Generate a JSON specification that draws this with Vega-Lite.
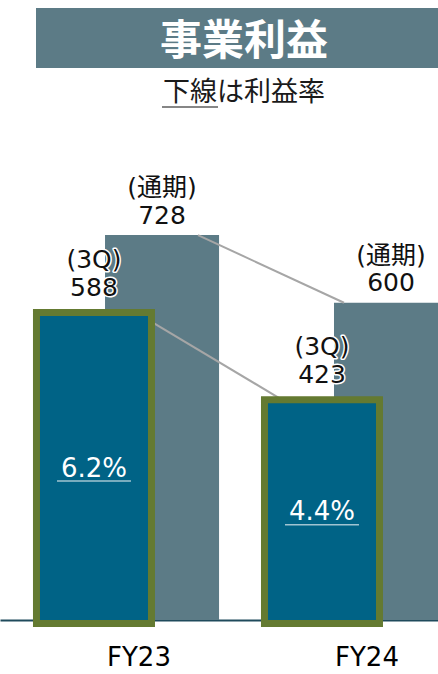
{
  "$schema": "https://vega.github.io/schema/vega-lite/v6.json",
  "padding": {"top": 8, "left": 0, "right": 0, "bottom": 0},
  "config": {
    "view": {"stroke": null},
    "font": "DejaVu Sans, Noto Sans CJK JP",
    "concat": {"spacing": 0}
  },
  "datasets": {
    "profit": [
      {"fy": "FY23", "type": "3Q", "tag": "(3Q)", "value": 588, "margin": 0.062},
      {"fy": "FY23", "type": "通期", "tag": "(通期)", "value": 728},
      {"fy": "FY24", "type": "3Q", "tag": "(3Q)", "value": 423, "margin": 0.044},
      {"fy": "FY24", "type": "通期", "tag": "(通期)", "value": 600}
    ]
  },
  "vconcat": [
    {
      "hconcat": [
        {
          "width": 36, "height": 60,
          "data": {"values": [{"blank": ""}]},
          "mark": {"type": "text"},
          "encoding": {"text": {"field": "blank"}}
        },
        {
          "width": 402, "height": 60,
          "view": {"fill": "#5c7b86", "stroke": null},
          "data": {"values": [{"title": "事業利益"}]},
          "mark": {"type": "text", "font": "Noto Sans CJK JP", "fontWeight": "bold", "fontSize": 42, "color": "#ffffff", "dx": 7, "dy": 4},
          "encoding": {"text": {"field": "title"}}
        }
      ],
      "spacing": 0
    },
    {
      "width": 438, "height": 46,
      "data": {"values": [{"subtitle": "下線は利益率"}]},
      "layer": [
        {
          "mark": {"type": "text", "font": "Noto Sans CJK JP", "fontSize": 27, "color": "#1a1a1a", "dx": 25, "dy": 2},
          "encoding": {"text": {"field": "subtitle"}}
        },
        {
          "mark": {"type": "tick", "orient": "horizontal", "size": 56, "thickness": 1.5, "color": "#1a1a1a", "xOffset": -29, "yOffset": 16},
          "encoding": {}
        }
      ]
    },
    {
      "width": 438, "height": 506,
      "data": {"name": "profit"},
      "resolve": {"scale": {"x": "independent", "y": "independent"}},
      "layer": [
        {
          "transform": [{"filter": "datum.type === '通期'"}],
          "layer": [
            {
              "mark": {"type": "bar", "color": "#5c7b86", "clip": true},
              "encoding": {
                "x": {"field": "fy", "type": "nominal", "scale": {"domain": ["FY23", "FY24"], "range": [0, 470], "paddingInner": 0.502, "paddingOuter": 0.2773, "align": 0.827}, "axis": null},
                "y": {"field": "value", "type": "quantitative", "scale": {"domain": [0, 957], "nice": false, "zero": true}, "axis": null}
              }
            },
            {
              "mark": {"type": "text", "fontSize": 25, "color": "#111111", "baseline": "alphabetic", "dy": -39},
              "encoding": {
                "x": {"field": "fy", "type": "nominal"},
                "y": {"field": "value", "type": "quantitative"},
                "text": {"field": "tag"}
              }
            },
            {
              "mark": {"type": "text", "fontSize": 25, "color": "#111111", "baseline": "alphabetic", "dy": -11.5},
              "encoding": {
                "x": {"field": "fy", "type": "nominal"},
                "y": {"field": "value", "type": "quantitative"},
                "text": {"field": "value", "type": "quantitative"}
              }
            }
          ]
        },
        {
          "transform": [{"filter": "datum.type === '通期'"}],
          "mark": {"type": "line", "color": "#a6a6a6", "strokeWidth": 2},
          "encoding": {
            "x": {"field": "fy", "type": "nominal", "scale": {"type": "point", "domain": ["FY23", "FY24"], "padding": 1.404, "align": 0.678}, "axis": null},
            "y": {"field": "value", "type": "quantitative", "scale": {"domain": [0, 957], "nice": false, "zero": true}, "axis": null}
          }
        },
        {
          "transform": [{"filter": "datum.type === '3Q'"}],
          "mark": {"type": "line", "color": "#a6a6a6", "strokeWidth": 2, "yOffset": 3.5},
          "encoding": {
            "x": {"field": "fy", "type": "nominal", "scale": {"type": "point", "domain": ["FY23", "FY24"], "padding": 1.438, "align": 0.4662}, "axis": null},
            "y": {"field": "value", "type": "quantitative", "scale": {"domain": [0, 957], "nice": false, "zero": true}, "axis": null}
          }
        },
        {
          "transform": [{"filter": "datum.type === '3Q'"}],
          "layer": [
            {
              "mark": {"type": "bar", "fill": "#006386", "stroke": "#647a31", "strokeWidth": 7, "yOffset": 3.5, "y2Offset": 3.5},
              "encoding": {
                "x": {
                  "field": "fy", "type": "nominal",
                  "scale": {"domain": ["FY23", "FY24"], "paddingInner": 0.4956, "paddingOuter": 0.2083, "align": 0.384},
                  "axis": {"orient": "bottom", "title": null, "domainColor": "#1f4a5c", "domainWidth": 2, "ticks": false, "grid": false, "labelAngle": 0, "labelFont": "DejaVu Sans", "labelFontSize": 26, "labelColor": "#000000", "labelPadding": 24, "labelOffset": 45}
                },
                "y": {"field": "value", "type": "quantitative", "scale": {"domain": [0, 957], "nice": false, "zero": true}, "axis": null}
              }
            },
            {
              "mark": {"type": "text", "fontSize": 25, "fill": "#ffffff", "stroke": "#ffffff", "strokeWidth": 3, "strokeJoin": "round", "baseline": "alphabetic", "dy": -41},
              "encoding": {
                "x": {"field": "fy", "type": "nominal"},
                "y": {"field": "value", "type": "quantitative"},
                "text": {"field": "tag"}
              }
            },
            {
              "mark": {"type": "text", "fontSize": 25, "color": "#111111", "baseline": "alphabetic", "dy": -41},
              "encoding": {
                "x": {"field": "fy", "type": "nominal"},
                "y": {"field": "value", "type": "quantitative"},
                "text": {"field": "tag"}
              }
            },
            {
              "mark": {"type": "text", "fontSize": 25, "fill": "#ffffff", "stroke": "#ffffff", "strokeWidth": 3, "strokeJoin": "round", "baseline": "alphabetic", "dy": -13.5},
              "encoding": {
                "x": {"field": "fy", "type": "nominal"},
                "y": {"field": "value", "type": "quantitative"},
                "text": {"field": "value", "type": "quantitative"}
              }
            },
            {
              "mark": {"type": "text", "fontSize": 25, "color": "#111111", "baseline": "alphabetic", "dy": -13.5},
              "encoding": {
                "x": {"field": "fy", "type": "nominal"},
                "y": {"field": "value", "type": "quantitative"},
                "text": {"field": "value", "type": "quantitative"}
              }
            }
          ]
        },
        {
          "transform": [{"filter": "datum.type === '3Q'"}],
          "layer": [
            {
              "mark": {"type": "text", "fontSize": 26, "color": "#ffffff", "baseline": "middle", "dy": 4},
              "encoding": {
                "x": {"field": "fy", "type": "nominal", "scale": {"domain": ["FY23", "FY24"], "paddingInner": 0.4956, "paddingOuter": 0.2083, "align": 0.384}, "axis": null},
                "y": {"field": "value", "type": "quantitative", "scale": {"domain": [0, 1914], "nice": false, "zero": true}, "axis": null},
                "text": {"field": "margin", "type": "quantitative", "format": ".1%"}
              }
            },
            {
              "mark": {"type": "tick", "orient": "horizontal", "size": 74, "thickness": 1.5, "color": "#e6eef2", "yOffset": 16.5},
              "encoding": {
                "x": {"field": "fy", "type": "nominal"},
                "y": {"field": "value", "type": "quantitative"}
              }
            }
          ]
        }
      ]
    }
  ]
}
